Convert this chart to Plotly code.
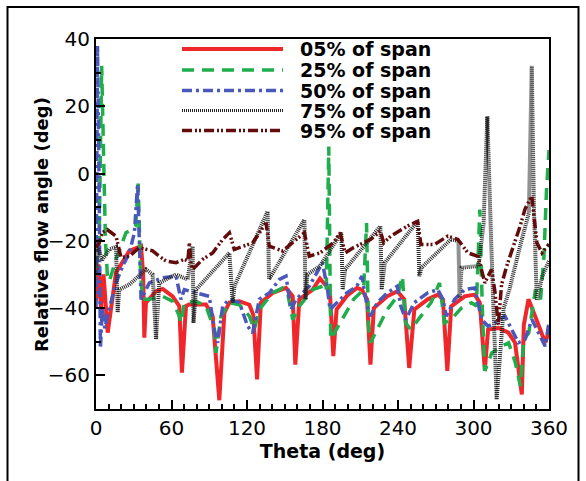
import plotly.graph_objects as go

# ---------------- data ----------------
theta_05 = [0, 2, 4, 6, 9.3, 15.9, 26.5, 35.8, 37.5, 38.4, 39.7, 47.7, 53, 60.9, 66.2, 68.3, 71.5, 74,
            87.4, 92.7, 98, 102, 106, 114, 121.9, 125, 128, 131, 140.4, 151, 156.3, 158.4, 161.6,
            172.2, 178, 183.2, 186, 188.6, 191.2, 199.3, 207.3, 211.3, 215.4, 218.1, 220.8, 231.5,
            239.5, 244.9, 248.9, 253, 263.6, 271.7, 275.7, 279.2, 282.3, 293, 301, 305, 309, 311.6,
            319.7, 327.7, 333, 338.4, 340, 343.7, 349, 354.4, 357, 359, 360]
angle_05 = [-38, -27, -40, -30, -47.3, -29.5, -23, -21.6, -30, -48.8, -38.4, -35, -34.3, -36.5, -39.4, -59.2, -39.4, -38.9,
            -38.9, -42.4, -67.4, -41.4, -38.4, -38, -39, -42, -61.2, -38.4, -35.5, -34, -36.5, -56.8, -37.4,
            -34.5, -31.2, -33.5, -36, -54.3, -40.4, -36.4, -34, -34.5, -37.4, -56.8, -40, -36.5,
            -35, -37.4, -57.8, -40.4, -37.4, -36, -37.4, -58.7, -39.5, -36.5, -36, -38.4, -58.5, -46.4,
            -45.9, -47.3, -50.3, -65.7, -45, -37.4, -42.4, -48.3, -50.3, -48, -45]

theta_25 = [0, 2.5, 4.5, 6, 7.5, 9, 10.6, 15.9, 23.8, 29, 31.5, 33.5, 35.5, 37, 42.4, 53, 61, 66.2, 67.5,
            70.2, 79.5, 87.4, 94, 95.4, 99.3, 106, 114, 121.9, 125.8, 129.8, 140.4, 148.3, 152.3, 156.3,
            161.6, 172.2, 180, 183, 185, 186.5, 194, 204.7, 212.7, 215, 216.5, 218.1, 223.4, 231.5, 239.5,
            243.5, 246, 250.2, 258.2, 266.2, 273, 276.9, 282.3, 290.3, 298.3, 302.3, 305, 307, 309, 314.5,
            322.6, 327.9, 333.3, 337.3, 339.9, 343.9, 349.3, 353.3, 356, 358, 360]
angle_25 = [-28, -20, 32, 10, -20, -30, -32, -25.5, -17.6, -16.6, -15.6, -3, -30, -37.4, -37.4, -36.5, -38, -42.4, -44.4,
            -38.4, -38, -39.4, -46.4, -53.3, -42.4, -38.4, -39, -42.4, -46.4, -40.4, -35.5, -34, -35.5, -43.4,
            -39.4, -34.5, -33.5, -35, 8, -49.3, -44.4, -37.4, -34.5, -14.7, -45, -50.3, -46.4, -40.4, -36.5,
            -30.5, -44.4, -46.4, -42.4, -38.4, -32.5, -44.4, -43.4, -40, -38.4, -39.4, -10.7, -40, -58.7, -53.3,
            -51.3, -50.3, -56.3, -63.2, -49.3, -47.4, -34.5, -37.4, -24.6, -5, 7]

theta_50 = [0, 1.2, 2.5, 3.5, 5, 7, 9.3, 15.9, 21.2, 26.5, 30.5, 33.1, 35.8, 42.4, 53, 63.6, 67.5, 70.2,
            79.5, 90, 94, 96.7, 100.7, 106, 114, 120.5, 124.5, 129.8, 137.7, 145.7, 151, 155, 159, 169.5,
            180, 184, 186, 191.2, 199.3, 207.3, 211.3, 215.4, 218.1, 223.4, 231.5, 239.5, 242.2, 246.2,
            252.9, 263.6, 271.7, 275.7, 278.4, 285, 293, 301, 306.4, 311.6, 317, 325, 330.3, 335.7, 341,
            346.4, 351.7, 357, 360]
angle_50 = [-40, 38, -5, -52, -40, -46, -42, -32.5, -27.5, -23.6, -17.6, -3, -37.4, -32.5, -31, -30.5, -37.4, -34.5,
            -35.5, -36.5, -46.4, -50.3, -39.4, -37.4, -38.4, -45.4, -47.4, -37.4, -35.5, -31.5, -30.5, -40.4, -37.4, -33.5,
            -26.5, -34.5, -40.4, -38.4, -35.5, -33.5, -30.5, -39.4, -42.4, -38.4, -35.5, -33.5, -39.4, -43.4,
            -38.4, -35.5, -34.5, -37.4, -42.4, -37.4, -34.5, -34, -43.4, -45.4, -44.4, -42.4, -46.4, -50.3, -49.3,
            -43.4, -47.4, -51.3, -44.4]

theta_75 = [0, 1.5, 5, 10.6, 15.9, 17.2, 18.5, 26.5, 39.7, 45, 47.7, 50.3, 63.6, 72.8, 76.8, 77.5, 79.5,
            92.7, 106, 108.6, 110, 136.4, 137.5, 165.6, 166.5, 168, 178, 195, 196, 198, 226, 227, 229.5,
            255.6, 257, 258.6, 282, 288, 289, 290.5, 304, 308, 311, 314, 318.4, 324, 328.5, 337, 344,
            346.3, 348, 350.3, 354.7, 360]
angle_75 = [-30, -22, -25.7, -22.5, -21.8, -41.3, -34.5, -33, -28.5, -30, -49.3, -32.5, -30, -31.5, -21.6, -44.4, -34.5,
            -29, -23.6, -38.4, -33.5, -11.2, -31.5, -13.7, -37.4, -30, -27.5, -17.6, -34.5, -28.5, -15.6, -34.5, -26.5,
            -14.2, -30.5, -28, -19.6, -20, -37, -28, -27.5, -15, 17, -20, -67.2, -40, -34.5, -21.6, -11.7,
            32, -10, -37.5, -30.5, -26]

theta_95 = [0, 2.6, 5, 9, 15.9, 19.9, 26.5, 34.4, 39.7, 45, 50.3, 55.6, 63.6, 70, 73, 74.2, 75.5, 76.8,
            84.8, 92.7, 100.7, 106, 109.9, 116.6, 124.5, 135.1, 137.7, 148.3, 158.9, 165.6, 169.5, 178,
            188.6, 194, 198, 204.7, 218.1, 226, 228.7, 234.2, 247.6, 255.6, 258.2, 268.9, 279.6, 287.6,
            295.6, 303.6, 309, 314.3, 317, 319.7, 322.3, 326.4, 337, 341, 346.3, 350.4, 354.4, 360]
angle_95 = [-22, -20.6, -17.6, -16.7, -18.6, -25, -24.6, -22, -22.5, -23, -24.6, -26, -26.5, -25.5, -26, -20.6, -27, -28.5,
            -25.5, -23.6, -19.6, -17.6, -22.6, -21.6, -20.6, -14.7, -21.6, -23, -19.6, -17.6, -24.6, -23.6,
            -20.6, -17.6, -23.6, -22, -19.6, -17.1, -20.6, -18.6, -15.6, -14.2, -21.1, -21.1, -18.6, -19.6,
            -23.6, -24.6, -32.5, -28.5, -35, -45, -33, -27.5, -15.7, -10.5, -6.7, -20.6, -23.6, -21]

series_names = ["05% of span", "25% of span", "50% of span", "75% of span", "95% of span"]
series_theta = [theta_05, theta_25, theta_50, theta_75, theta_95]
series_angle = [angle_05, angle_25, angle_50, angle_75, angle_95]

x_ticks = [0, 60, 120, 180, 240, 300, 360]
y_ticks = [-60, -40, -20, 0, 20, 40]

# ---------------- styles ----------------
colors = ["#f0272a", "#1fae4c", "#4a58bb", "#262626", "#640c0c"]
widths = [4, 3.5, 3.5, 4, 3.5]
dashes = ["solid", "12px,8px", "10px,4px,3px,4px", "1px,1px", "10px,3px,2px,2px,2px,3px"]
legend_widths = [4, 3.5, 3.5, 3, 3.5]

fig = go.Figure()
for name, th, an, c, w, d in zip(series_names, series_theta, series_angle, colors, widths, dashes):
    fig.add_trace(go.Scatter(x=th, y=an, mode="lines", name=name, showlegend=False,
                             line=dict(color=c, width=w, dash=d)))

# plot area in pixels (for layout placement of the hand-made legend / frame)
L, R, T, B = 96, 549, 39, 409
W_, H_ = R - L, B - T

def px(xp):
    return (xp - L) / W_

def py(yp):
    return (B - yp) / H_

shapes = []
annotations = []
legend_rows = [49, 70, 90.5, 110.5, 130.5]
for name, c, w, d, yr in zip(series_names, colors, legend_widths, dashes, legend_rows):
    shapes.append(dict(type="line", xref="paper", yref="paper", x0=px(182), x1=px(283),
                       y0=py(yr), y1=py(yr), line=dict(color=c, width=w, dash=d)))
    annotations.append(dict(xref="paper", yref="paper", x=px(298), y=py(yr), xanchor="left",
                            yanchor="middle", text="<b>%s</b>" % name, showarrow=False,
                            font=dict(family="DejaVu Sans", size=19, color="black")))

# y-axis title as annotation for exact placement
annotations.append(dict(xref="paper", yref="paper", x=px(41), y=py(225), xanchor="center",
                        yanchor="middle", textangle=-90, showarrow=False,
                        text="<b>Relative flow angle (deg)</b>",
                        font=dict(family="DejaVu Sans", size=18, color="black")))

# outer frame of the figure
shapes.append(dict(type="rect", xref="paper", yref="paper", x0=px(7.5), x1=px(578.5),
                   y0=py(495), y1=py(7), line=dict(color="black", width=2), fillcolor="rgba(0,0,0,0)",
                   layer="above"))

axis_common = dict(showline=True, linecolor="black", linewidth=2, mirror=True,
                   ticks="inside", ticklen=9, tickwidth=2, tickcolor="black",
                   showgrid=False, zeroline=False,
                   tickfont=dict(family="DejaVu Sans", size=20, color="black"))

fig.update_layout(
    width=586, height=481,
    margin=dict(l=L, r=586 - R, t=T, b=481 - B),
    paper_bgcolor="white", plot_bgcolor="white",
    xaxis=dict(range=[0, 360], tickvals=x_ticks,
               minor=dict(dtick=10, ticks="inside", ticklen=5, tickwidth=1.5, tickcolor="black"),
               title=dict(text="<b>Theta (deg)</b>", standoff=2,
                          font=dict(family="DejaVu Sans", size=19, color="black")),
               **axis_common),
    yaxis=dict(range=[-70, 40], tickvals=y_ticks,
               minor=dict(dtick=10, ticks="inside", ticklen=5, tickwidth=1.5, tickcolor="black"),
               **axis_common),
    shapes=shapes,
    annotations=annotations,
)

fig.write_html("out.html")
